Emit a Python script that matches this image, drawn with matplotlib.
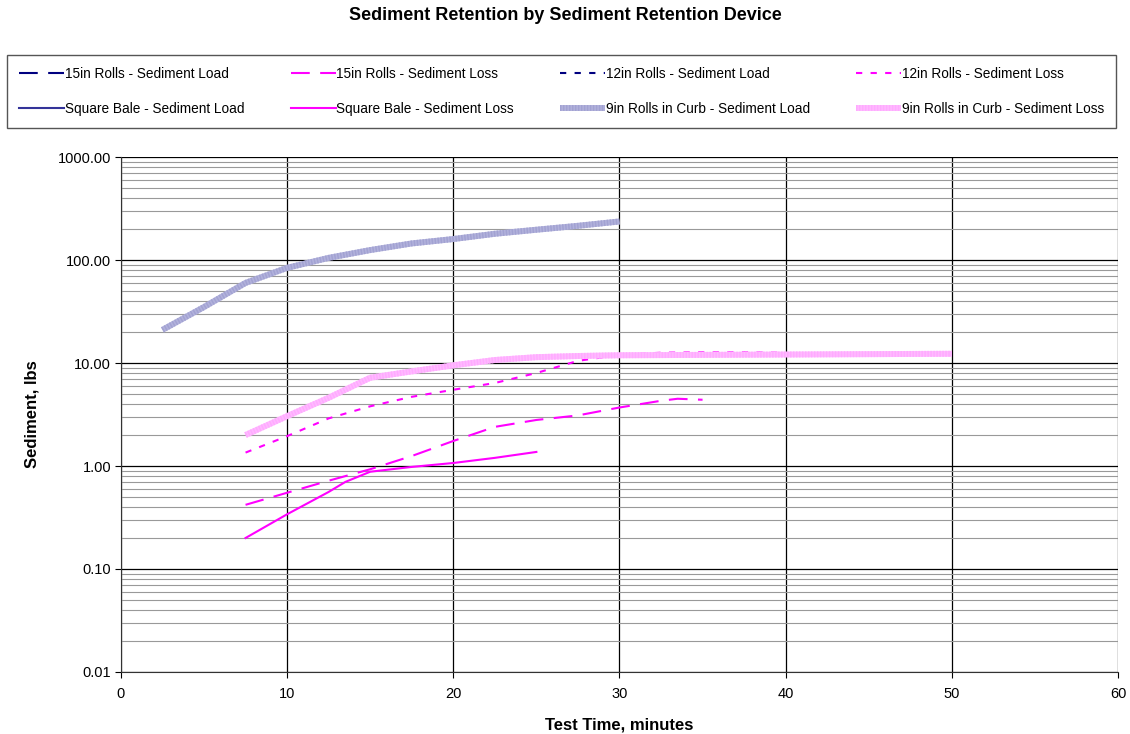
import numpy as np
import matplotlib
matplotlib.use("Agg")
import matplotlib.pyplot as plt
from matplotlib.ticker import FixedLocator, FuncFormatter, LogLocator
from matplotlib.legend_handler import HandlerTuple

plt.rcParams['font.family'] = ['Liberation Sans', 'DejaVu Sans']

# series (minutes, lbs)
t_15_loss = [7.5, 10, 12.5, 15, 17.5, 20, 22.5, 25, 27.5, 30, 32.5, 33.5, 35]
y_15_loss = [0.42, 0.55, 0.72, 0.93, 1.25, 1.75, 2.4, 2.8, 3.1, 3.7, 4.3, 4.5, 4.4]

t_12_loss = [7.5, 10, 12.5, 15, 17.5, 20, 22.5, 25, 27.5, 30, 32.5, 35, 37.5, 40]
y_12_loss = [1.35, 1.95, 2.9, 3.8, 4.7, 5.5, 6.4, 8.0, 10.5, 12.0, 12.6, 12.7, 12.7, 12.6]

t_sq_loss = [7.5, 10, 12.5, 13.5, 15, 17.5, 20, 22.5, 25]
y_sq_loss = [0.2, 0.34, 0.56, 0.7, 0.88, 0.98, 1.07, 1.2, 1.37]

t_9_load = [2.5, 5, 7.5, 10, 12.5, 15, 17.5, 20, 22.5, 25, 27.5, 30]
y_9_load = [21, 35, 60, 84, 105, 125, 145, 160, 180, 197, 215, 237]

t_9_loss = [7.5, 10, 12.5, 15, 17.5, 20, 22.5, 25, 27.5, 30, 35, 40, 45, 50]
y_9_loss = [2.0, 3.05, 4.6, 7.2, 8.3, 9.5, 10.7, 11.4, 11.7, 11.9, 12.0, 12.1, 12.2, 12.3]

# load series for 15in, 12in and square bale are not visible on the chart
t_15_load, y_15_load = [], []
t_12_load, y_12_load = [], []
t_sq_load, y_sq_load = [], []

fig = plt.figure(figsize=(11.3, 7.34), dpi=100)
ax = fig.add_axes([0.107, 0.0845, 0.8824, 0.7015])

navy = '#000080'
mag = '#ff00ff'
dash = (0, (9, 5))
dot = (0, (3, 4))

h15L, = ax.plot(t_15_load, y_15_load, color=navy, lw=1.5, ls=dash)
h15S, = ax.plot(t_15_loss, y_15_loss, color=mag, lw=1.5, ls=dash)
h12L, = ax.plot(t_12_load, y_12_load, color=navy, lw=1.5, ls=dot)
h12S, = ax.plot(t_12_loss, y_12_loss, color=mag, lw=1.5, ls=dot)
hsqL, = ax.plot(t_sq_load, y_sq_load, color='#333399', lw=1.5)
hsqS, = ax.plot(t_sq_loss, y_sq_loss, color=mag, lw=1.5)

# thick "textured" lines: flat colour plus fine stripes on top
h9L, = ax.plot(t_9_load, y_9_load, color='#b2b2dc', lw=4.3, solid_capstyle='butt')
h9Lx, = ax.plot(t_9_load, y_9_load, color='#a2a2d2', lw=4.3, ls=(0, (0.25, 0.25)),
                dash_capstyle='butt')
h9S, = ax.plot(t_9_loss, y_9_loss, color='#ffbaff', lw=4.3, solid_capstyle='butt')
h9Sx, = ax.plot(t_9_loss, y_9_loss, color='#ffaaff', lw=4.3, ls=(0, (0.25, 0.25)),
                dash_capstyle='butt')

ax.set_yscale('log')
ax.set_xlim(0, 60)
ax.set_ylim(0.01, 1000)
ax.set_xticks(range(0, 61, 10))
ax.yaxis.set_major_locator(FixedLocator([0.01, 0.1, 1, 10, 100, 1000]))
ax.yaxis.set_major_formatter(FuncFormatter(lambda v, p: '%.2f' % v))
ax.yaxis.set_minor_locator(LogLocator(base=10, subs=np.arange(2, 10)))
ax.yaxis.set_minor_formatter(FuncFormatter(lambda v, p: ''))
ax.tick_params(axis='both', labelsize=10.5, direction='out', length=4, pad=3)
ax.tick_params(axis='x', pad=7)
ax.tick_params(axis='y', which='minor', length=0)

ax.grid(True, which='major', axis='both', color='black', lw=0.9)
ax.grid(True, which='minor', axis='y', color='#999999', lw=0.8)
ax.set_axisbelow(True)
for s in ['top', 'right']:
    ax.spines[s].set_visible(False)
ax.spines['left'].set_color('#333333')
ax.spines['bottom'].set_color('#333333')

ax.set_xlabel('Test Time, minutes', fontsize=12, fontweight='bold', labelpad=12)
ax.set_ylabel('Sediment, lbs', fontsize=12, fontweight='bold', labelpad=13)

fig.text(0.5, 1 - 16 / 734, 'Sediment Retention by Sediment Retention Device', fontsize=13,
         fontweight='bold', ha='center', va='center')

# legend is filled column by column, so order gives the two reference rows
handles = [h15L, hsqL, h15S, hsqS, h12L, (h9L, h9Lx), h12S, (h9S, h9Sx)]
labels = ['15in Rolls - Sediment Load', 'Square Bale - Sediment Load',
          '15in Rolls - Sediment Loss', 'Square Bale - Sediment Loss',
          '12in Rolls - Sediment Load', '9in Rolls in Curb - Sediment Load',
          '12in Rolls - Sediment Loss', '9in Rolls in Curb - Sediment Loss']
leg = fig.legend(handles=handles, labels=labels, ncol=4,
                 handler_map={tuple: HandlerTuple(ndivide=1, pad=0)},
                 loc='upper left', bbox_to_anchor=(7 / 1130, 1 - 55 / 734),
                 borderaxespad=0, fontsize=9.8, handlelength=3.3, borderpad=0.9,
                 handletextpad=0.05, labelspacing=1.5, columnspacing=3.4, fancybox=False,
                 edgecolor='#555555', framealpha=1)
leg.get_frame().set_linewidth(1.0)

fig.savefig('out.png', dpi=100)
